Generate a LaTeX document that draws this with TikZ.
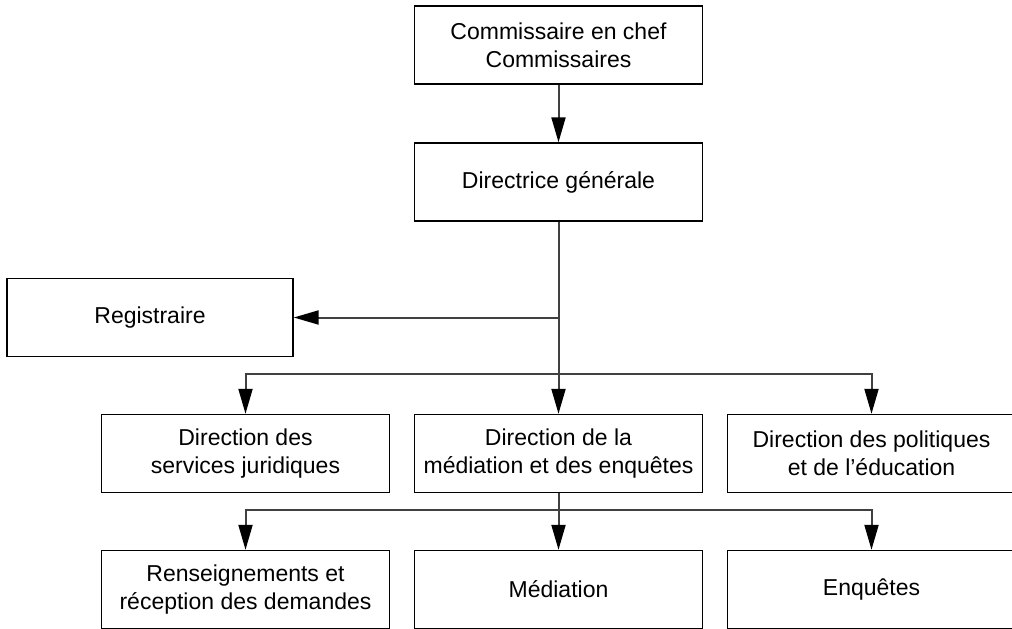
\documentclass[tikz,border=0pt]{standalone}
\usepackage{fontspec}
\setmainfont{Liberation Sans}
\usetikzlibrary{arrows.meta}
\begin{document}
\begin{tikzpicture}[x=1pt,y=-1pt,%
  unit/.style={draw=black,line width=1.4pt,align=center,inner sep=0pt,%
    minimum width=288pt,minimum height=78pt,font=\fontsize{23}{28}\selectfont},%
  link/.style={draw=black!75,line width=2pt,%
    -{Triangle[length=25pt,width=14pt,color=black]}},%
  trunk/.style={draw=black!75,line width=2pt}]%
\clip (0,0) rectangle (1012,629);%
\def\colA{245.5};%
\def\colB{558.5};%
\def\colC{871.5};%
%
\node[unit] (chef) at (\colB,45) {Commissaire en chef\\Commissaires};%
\node[unit] (dg) at (\colB,182) {Directrice générale};%
\node[unit,minimum width=286pt] (reg) at (150,317.5) {Registraire};%
%
\node[unit] (dsj) at (\colA,453.5) {Direction des\\services juridiques};%
\node[unit] (dme) at (\colB,453.5) {Direction de la\\médiation et des enquêtes};%
\node[unit] (dpe) at (\colC,453.5) {Direction des politiques\\et de l’éducation};%
%
\node[unit] (ren) at (\colA,589.5) {Renseignements et\\réception des demandes};%
\node[unit] (med) at (\colB,589.5) {Médiation};%
\node[unit] (enq) at (\colC,589.5) {Enquêtes};%
%
\coordinate (j1) at (\colB,374);%
\coordinate (j2) at (\colB,510);%
%
\draw[link] (chef) -- (dg);%
\draw[link] (dg) -- (dme);%
\draw[link] (dg.south |- reg.east) -- (reg.east);%
\draw[trunk] (j1 -| dsj.north) -- (j1 -| dpe.north);%
\draw[link] (j1) -| (dsj.north);%
\draw[link] (j1) -| (dpe.north);%
%
\draw[link] (dme) -- (med);%
\draw[trunk] (j2 -| ren.north) -- (j2 -| enq.north);%
\draw[link] (j2) -| (ren.north);%
\draw[link] (j2) -| (enq.north);%
\end{tikzpicture}
\end{document}
